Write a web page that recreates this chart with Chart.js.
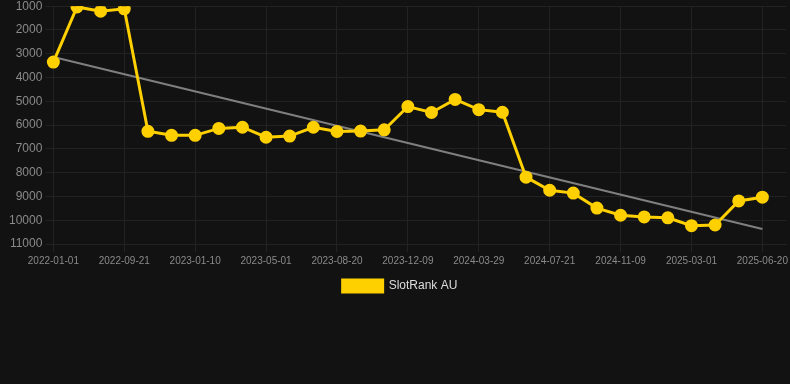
<!DOCTYPE html>
<html>
<head>
<meta charset="utf-8">
<script src="https://cdn.jsdelivr.net/npm/chart.js@4"></script>
<style>
  html, body { margin: 0; padding: 0; background: #121212; overflow: hidden; }
  #wrap { width: 794px; height: 388px; margin-top: -4px; }
</style>
</head>
<body>
<div id="wrap"><canvas id="rankChart"></canvas></div>
<script>
// category labels (last one has no data point)
const dates = [
    '2022-01-01', '2022-07-08', '2022-08-14', '2022-09-21', '2022-10-28', '2022-12-04',
    '2023-01-10', '2023-02-16', '2023-03-25', '2023-05-01', '2023-06-07', '2023-07-14',
    '2023-08-20', '2023-09-26', '2023-11-02', '2023-12-09', '2024-01-15', '2024-02-21',
    '2024-03-29', '2024-05-05', '2024-06-12', '2024-07-21', '2024-08-27', '2024-10-03',
    '2024-11-09', '2024-12-16', '2025-01-22', '2025-03-01', '2025-04-06', '2025-05-13',
    '2025-06-20', '2025-07-27'
];

// rank values
const ranks = [
    3350, 1030, 1210, 1110, 6260, 6430, 6430, 6140, 6090, 6510, 6460,
    6090, 6270, 6250, 6200, 5220, 5470, 4920, 5350, 5460, 8190, 8740,
    8860, 9490, 9790, 9860, 9900, 10230, 10200, 9190, 9030
];

// trend line end points (first and last data point)
const trendStart = 3140;
const trendEnd = 10370;

const yTicks = [1000, 2000, 3000, 4000, 5000, 6000, 7000, 8000, 9000, 10000, 11000];

const trend = dates.map(() => null);
trend[0] = trendStart;
trend[ranks.length - 1] = trendEnd;

const ctx = document.getElementById('rankChart').getContext('2d');
const chart = new Chart(ctx, {
    type: 'line',
    data: {
        labels: dates,
        datasets: [{
            label: 'SlotRank AU',
            data: ranks,
            borderColor: '#ffd000',
            backgroundColor: '#ffd000',
            borderWidth: 3,
            pointRadius: 5,
            pointHoverRadius: 5,
            pointBackgroundColor: '#ffd000',
            pointBorderColor: '#ffd000',
            tension: 0
        }, {
            label: 'trend',
            data: trend,
            borderColor: 'rgba(140,140,140,0.9)',
            borderWidth: 2,
            pointRadius: 0,
            spanGaps: true
        }]
    },
    options: {
        responsive: true,
        maintainAspectRatio: false,
        animation: false,
        layout: {
            padding: { left: 6, right: 0, top: 0, bottom: 82 }
        },
        plugins: {
            legend: {
                position: 'bottom',
                labels: {
                    color: '#dddddd',
                    boxWidth: 40,
                    boxHeight: 12,
                    font: { family: 'Arial, "Liberation Sans", sans-serif', size: 12 },
                    filter: item => item.text !== 'trend'
                }
            },
            tooltip: { enabled: false }
        },
        scales: {
            x: {
                grid: { color: '#222222', tickLength: 8 },
                border: { color: '#222222' },
                ticks: {
                    color: '#8a8a8a',
                    maxRotation: 0,
                    autoSkip: true,
                    maxTicksLimit: 11,
                    font: { family: 'Arial, "Liberation Sans", sans-serif', size: 10 }
                }
            },
            y: {
                reverse: true,
                min: 1000,
                max: 11000,
                afterBuildTicks: axis => { axis.ticks = yTicks.map(v => ({ value: v })); },
                grid: { color: '#222222', tickLength: 8 },
                border: { color: '#222222' },
                ticks: {
                    color: '#8a8a8a',
                    callback: v => String(v),
                    font: { family: 'Arial, "Liberation Sans", sans-serif', size: 12 }
                }
            }
        }
    }
});
</script>
</body>
</html>
